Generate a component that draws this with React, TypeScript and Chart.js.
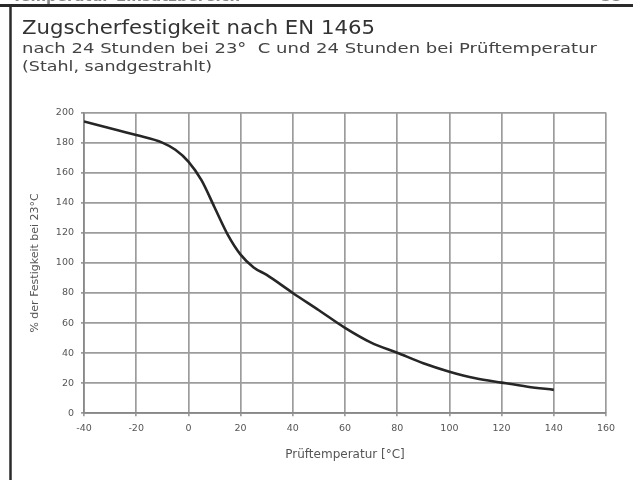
import React, { useEffect, useRef } from 'react';
import { Chart, registerables } from 'chart.js';

Chart.register(...registerables);

// ---- data ----
const temperatures = [-40, -30, -20, -10, -5, 0, 5, 10, 15, 20, 25, 30, 40, 50, 60, 70, 80, 90, 100, 110, 120, 130, 140];
const strengthPercent = [194, 189.6, 185, 180, 175.2, 167.4, 155, 137, 119, 105.5, 97, 92, 80, 68.5, 56.8, 47, 40.3, 33.3, 27.7, 23.3, 20.4, 17.7, 15.6];

const xMin = -40;
const xMax = 160;
const xStep = 20;
const yMin = 0;
const yMax = 200;
const yStep = 20;

const titleText = 'Zugscherfestigkeit nach EN 1465';
const subtitleLines = ['nach 24 Stunden bei 23°  C und 24 Stunden bei Prüftemperatur', '(Stahl, sandgestrahlt)'];
const headerCutText = 'Temperatur-Einsatzbereich';
const pageNumberText = '35';
const xAxisTitle = 'Prüftemperatur [°C]';
const yAxisTitle = '% der Festigkeit bei 23°C';

const FONT = '"DejaVu Sans", sans-serif';

function drawFitted(ctx: CanvasRenderingContext2D, text: string, x: number, y: number, width: number) {
  const w = ctx.measureText(text).width;
  ctx.save();
  ctx.translate(x, y);
  ctx.scale(width / w, 1);
  ctx.fillText(text, 0, 0);
  ctx.restore();
}

const framePlugin = {
  id: 'frameAndTexts',
  beforeDraw(chart: any) {
    const ctx = chart.ctx as CanvasRenderingContext2D;
    ctx.save();
    ctx.fillStyle = '#ffffff';
    ctx.fillRect(0, 0, chart.width, chart.height);
    // cut-off header text above the frame
    ctx.fillStyle = '#888';
    ctx.font = `bold 15px ${FONT}`;
    ctx.textBaseline = 'alphabetic';
    ctx.textAlign = 'left';
    ctx.fillText(headerCutText, 12, 1);
    ctx.textAlign = 'right';
    ctx.fillText(pageNumberText, 622, 1);
    // frame lines
    ctx.strokeStyle = '#2a2a2a';
    ctx.lineWidth = 3;
    ctx.beginPath();
    ctx.moveTo(0, 5.5);
    ctx.lineTo(chart.width, 5.5);
    ctx.stroke();
    ctx.lineWidth = 2.5;
    ctx.beginPath();
    ctx.moveTo(10.5, 4);
    ctx.lineTo(10.5, chart.height);
    ctx.stroke();
    // titles
    ctx.textAlign = 'left';
    ctx.fillStyle = '#333';
    ctx.font = `20px ${FONT}`;
    drawFitted(ctx, titleText, 22, 34, 353);
    ctx.fillStyle = '#444';
    ctx.font = `13.5px ${FONT}`;
    drawFitted(ctx, subtitleLines[0], 22, 53, 575);
    drawFitted(ctx, subtitleLines[1], 22, 71, 190);
    ctx.restore();
  },
};

export default function App() {
  const canvasRef = useRef<HTMLCanvasElement | null>(null);

  useEffect(() => {
    if (!canvasRef.current) return;
    const tickFont = { family: FONT, size: 9.5 };
    const chart = new Chart(canvasRef.current, {
      type: 'line',
      data: {
        datasets: [
          {
            label: yAxisTitle,
            data: temperatures.map((t, i) => ({ x: t, y: strengthPercent[i] })),
            borderColor: '#262626',
            borderWidth: 2.6,
            pointRadius: 0,
            fill: false,
            cubicInterpolationMode: 'monotone',
          },
        ],
      },
      options: {
        responsive: false,
        animation: false,
        layout: { padding: { top: 112.5, left: 0, right: 27, bottom: 0 } },
        plugins: {
          legend: { display: false },
          tooltip: { enabled: false },
          title: { display: false },
        },
        scales: {
          x: {
            type: 'linear',
            min: xMin,
            max: xMax,
            ticks: { stepSize: xStep, color: '#555', font: tickFont, padding: 7, maxRotation: 0 },
            grid: { color: '#9c9c9c', lineWidth: 1.7, tickLength: 3 },
            border: { color: '#888', width: 1.7 },
            title: { display: true, text: xAxisTitle, color: '#555', font: { family: FONT, size: 12 }, padding: { top: 0, bottom: 18 } },
            afterFit(scale: any) {
              scale.height = 480 - 413.3;
            },
          },
          y: {
            min: yMin,
            max: yMax,
            ticks: { stepSize: yStep, color: '#555', font: tickFont, padding: 7 },
            grid: { color: '#9c9c9c', lineWidth: 1.7, tickLength: 3 },
            border: { color: '#888', width: 1.7 },
            title: { display: true, text: yAxisTitle, color: '#555', font: { family: FONT, size: 11 }, padding: { top: 29, bottom: 0 } },
            afterFit(scale: any) {
              scale.width = 84;
            },
          },
        },
      },
      plugins: [framePlugin],
    });
    return () => chart.destroy();
  }, []);

  return (
    <div style={{ position: 'absolute', left: 0, top: 0, width: 633, height: 480 }}>
      <canvas ref={canvasRef} width={633} height={480} />
    </div>
  );
}
